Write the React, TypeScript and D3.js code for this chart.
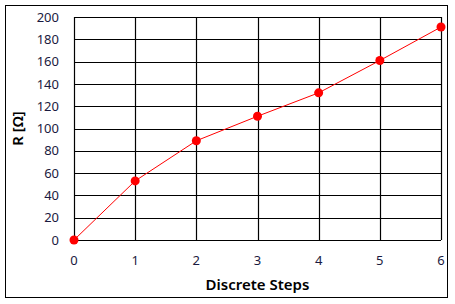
import React from "react";
import * as d3 from "d3";

const steps = [0, 1, 2, 3, 4, 5, 6];
const resistance = [0, 53, 89, 111, 132, 161, 191];
const yTicks = [0, 20, 40, 60, 80, 100, 120, 140, 160, 180, 200];
const xLabel = "Discrete Steps";
const yLabel = "R [Ω]";

export default function App() {
  const W = 455, H = 304;
  const left = 74, right = 441, top = 17, bottom = 240;
  const x = d3.scaleLinear().domain([0, 6]).range([left, right]);
  const y = d3.scaleLinear().domain([0, 200]).range([bottom, top]);
  const line = d3.line<number>().x((_, i) => x(steps[i])).y((d) => y(d));
  const font = "'Noto Sans', 'Open Sans', sans-serif";
  return (
    <svg width={W} height={H} style={{ position: "absolute", left: 0, top: 0 }} fontFamily={font}>
      <rect x={0} y={0} width={W} height={H} fill="#fff" />
      <rect x={5.5} y={5.5} width={442} height={292} fill="none" stroke="#000" strokeWidth={1} />
      {yTicks.map((t) => (
        <line key={"h" + t} x1={left} x2={right} y1={Math.round(y(t)) + 0.5} y2={Math.round(y(t)) + 0.5} stroke="#000" strokeWidth={1.2} />
      ))}
      {steps.map((s) => (
        <line key={"v" + s} x1={Math.round(x(s)) + 0.5} x2={Math.round(x(s)) + 0.5} y1={top} y2={bottom} stroke="#000" strokeWidth={1.2} />
      ))}
      {yTicks.map((t) => (
        <text key={"yt" + t} x={59} y={y(t)} dy="0.36em" textAnchor="end" fontSize={13} fill="#1a1a40">{t}</text>
      ))}
      {steps.map((s) => (
        <text key={"xt" + s} x={x(s)} y={265} textAnchor="middle" fontSize={13} fill="#1a1a40">{s}</text>
      ))}
      <path d={line(resistance) || ""} fill="none" stroke="#ff0000" strokeWidth={1} />
      {resistance.map((v, i) => (
        <circle key={"p" + i} cx={x(steps[i])} cy={y(v)} r={4.5} fill="#ff0000" />
      ))}
      <text x={(left + right) / 2} y={290} textAnchor="middle" fontSize={15} fontWeight="600" fill="#000">{xLabel}</text>
      <text transform={`translate(23, ${(top + bottom) / 2}) rotate(-90)`} textAnchor="middle" fontSize={15} fontWeight="600" fill="#000">{yLabel}</text>
    </svg>
  );
}
